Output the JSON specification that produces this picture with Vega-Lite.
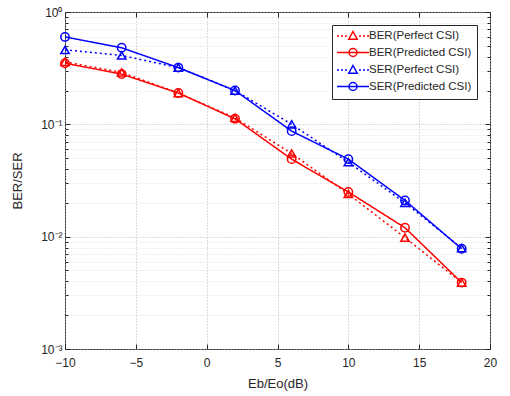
{
  "$schema": "https://vega.github.io/schema/vega-lite/v6.json",
  "width": 510,
  "height": 396,
  "autosize": {"type": "fit", "contains": "padding"},
  "padding": {"left": 11, "top": 6, "right": 13, "bottom": 6},
  "background": "white",
  "config": {
    "font": "Liberation Sans",
    "view": {"stroke": "#262626", "strokeWidth": 1},
    "axis": {
      "domain": false,
      "labelFont": "Liberation Sans",
      "titleFont": "Liberation Sans",
      "labelColor": "#262626",
      "titleColor": "#262626",
      "labelFontSize": 12,
      "titleFontSize": 13,
      "titleFontWeight": "normal",
      "tickColor": "#262626",
      "tickWidth": 1,
      "labelFlush": false
    }
  },
  "data": {
    "values": [
      {"x": -10, "v": 0.36, "series": "BER(Perfect CSI)"},
      {"x": -6, "v": 0.29, "series": "BER(Perfect CSI)"},
      {"x": -2, "v": 0.19, "series": "BER(Perfect CSI)"},
      {"x": 2, "v": 0.114, "series": "BER(Perfect CSI)"},
      {"x": 6, "v": 0.055, "series": "BER(Perfect CSI)"},
      {"x": 10, "v": 0.024, "series": "BER(Perfect CSI)"},
      {"x": 14, "v": 0.0098, "series": "BER(Perfect CSI)"},
      {"x": 18, "v": 0.0039, "series": "BER(Perfect CSI)"},
      {"x": -10, "v": 0.35, "series": "BER(Predicted CSI)"},
      {"x": -6, "v": 0.28, "series": "BER(Predicted CSI)"},
      {"x": -2, "v": 0.19, "series": "BER(Predicted CSI)"},
      {"x": 2, "v": 0.112, "series": "BER(Predicted CSI)"},
      {"x": 6, "v": 0.049, "series": "BER(Predicted CSI)"},
      {"x": 10, "v": 0.025, "series": "BER(Predicted CSI)"},
      {"x": 14, "v": 0.012, "series": "BER(Predicted CSI)"},
      {"x": 18, "v": 0.0039, "series": "BER(Predicted CSI)"},
      {"x": -10, "v": 0.46, "series": "SER(Perfect CSI)"},
      {"x": -6, "v": 0.41, "series": "SER(Perfect CSI)"},
      {"x": -2, "v": 0.32, "series": "SER(Perfect CSI)"},
      {"x": 2, "v": 0.2, "series": "SER(Perfect CSI)"},
      {"x": 6, "v": 0.1, "series": "SER(Perfect CSI)"},
      {"x": 10, "v": 0.046, "series": "SER(Perfect CSI)"},
      {"x": 14, "v": 0.02, "series": "SER(Perfect CSI)"},
      {"x": 18, "v": 0.0079, "series": "SER(Perfect CSI)"},
      {"x": -10, "v": 0.6, "series": "SER(Predicted CSI)"},
      {"x": -6, "v": 0.48, "series": "SER(Predicted CSI)"},
      {"x": -2, "v": 0.32, "series": "SER(Predicted CSI)"},
      {"x": 2, "v": 0.2, "series": "SER(Predicted CSI)"},
      {"x": 6, "v": 0.087, "series": "SER(Predicted CSI)"},
      {"x": 10, "v": 0.049, "series": "SER(Predicted CSI)"},
      {"x": 14, "v": 0.021, "series": "SER(Predicted CSI)"},
      {"x": 18, "v": 0.0078, "series": "SER(Predicted CSI)"}
    ]
  },
  "layer": [
    {
      "mark": {"type": "line", "strokeWidth": 1.5, "clip": true},
      "encoding": {
        "x": {
          "field": "x", "type": "quantitative",
          "scale": {"domain": [-10, 20], "nice": false},
          "axis": {
            "title": "Eb/Eo(dB)",
            "values": [-10, -5, 0, 5, 10, 15, 20],
            "tickSize": -5,
            "labelPadding": 13,
            "titlePadding": 9,
            "grid": true,
            "gridColor": "#b8b8b8",
            "gridDash": [1, 2],
            "gridWidth": 1
          }
        },
        "y": {
          "field": "v", "type": "quantitative",
          "scale": {"type": "log", "domain": [0.001, 1], "nice": false},
          "axis": {
            "title": "BER/SER",
            "values": [0.001, 0.002, 0.003, 0.004, 0.005, 0.006, 0.007, 0.008, 0.009, 0.01, 0.02, 0.03, 0.04, 0.05, 0.06, 0.07, 0.08, 0.09, 0.1, 0.2, 0.3, 0.4, 0.5, 0.6, 0.7, 0.8, 0.9, 1],
            "labelExpr": "datum.value == 1 ? '10⁰' : datum.value == 0.1 ? '10⁻¹' : datum.value == 0.01 ? '10⁻²' : datum.value == 0.001 ? '10⁻³' : ''",
            "tickSize": {"condition": {"test": "indexof([1,0.1,0.01,0.001], datum.value) >= 0", "value": -5}, "value": -3},
            "labelPadding": 8,
            "titlePadding": 16,
            "grid": true,
            "gridColor": {"condition": {"test": "indexof([1,0.1,0.01,0.001], datum.value) >= 0", "value": "#b8b8b8"}, "value": "#dcdcdc"},
            "gridDash": [1, 2],
            "gridWidth": 1
          }
        },
        "detail": {"field": "series"},
        "color": {
          "field": "series", "type": "nominal",
          "scale": {"domain": ["BER(Perfect CSI)", "BER(Predicted CSI)", "SER(Perfect CSI)", "SER(Predicted CSI)"], "range": ["#ff0000", "#ff0000", "#0000ff", "#0000ff"]},
          "legend": null
        },
        "strokeDash": {
          "field": "series", "type": "nominal",
          "scale": {"domain": ["BER(Perfect CSI)", "BER(Predicted CSI)", "SER(Perfect CSI)", "SER(Predicted CSI)"], "range": [[2, 3], [1, 0], [2, 3], [1, 0]]},
          "legend": null
        }
      }
    },
    {
      "transform": [{"filter": "indexof(datum.series, 'Perfect') >= 0"}],
      "mark": {"type": "point", "shape": "triangle-up", "filled": false, "size": 70, "strokeWidth": 1.5, "opacity": 1},
      "encoding": {
        "x": {"field": "x", "type": "quantitative", "axis": {"orient": "top", "values": [-10, -5, 0, 5, 10, 15, 20], "labels": false, "title": null, "tickSize": -5, "grid": false}},
        "y": {"field": "v", "type": "quantitative", "axis": {"orient": "right", "values": [0.001, 0.002, 0.003, 0.004, 0.005, 0.006, 0.007, 0.008, 0.009, 0.01, 0.02, 0.03, 0.04, 0.05, 0.06, 0.07, 0.08, 0.09, 0.1, 0.2, 0.3, 0.4, 0.5, 0.6, 0.7, 0.8, 0.9, 1], "labels": false, "title": null, "grid": false, "tickSize": {"condition": {"test": "indexof([1,0.1,0.01,0.001], datum.value) >= 0", "value": -5}, "value": -3}}},
        "color": {"field": "series", "type": "nominal", "legend": null}
      }
    },
    {
      "transform": [{"filter": "indexof(datum.series, 'Predicted') >= 0"}],
      "mark": {"type": "point", "shape": "circle", "filled": false, "size": 70, "strokeWidth": 1.5, "opacity": 1},
      "encoding": {
        "x": {"field": "x", "type": "quantitative", "axis": null},
        "y": {"field": "v", "type": "quantitative", "axis": null},
        "color": {"field": "series", "type": "nominal", "legend": null}
      }
    },
    {
      "mark": {"type": "point", "filled": false, "strokeWidth": 1.5, "opacity": 0},
      "encoding": {
        "x": {"field": "x", "type": "quantitative", "axis": null},
        "y": {"field": "v", "type": "quantitative", "axis": null},
        "shape": {
          "field": "series", "type": "nominal",
          "scale": {
            "domain": ["BER(Perfect CSI)", "BER(Predicted CSI)", "SER(Perfect CSI)", "SER(Predicted CSI)"],
            "range": [
              "M-3.2,0h0.4M-2.4,0h0.4M-1.6,0h0.4M1.2,0h0.4M2,0h0.4M2.8,0h0.4M0,-0.9L0.85,0.65L-0.85,0.65Z",
              "M-3.2,0H3.2M0.8,0A0.8,0.8 0 1,1 -0.8,0A0.8,0.8 0 1,1 0.8,0Z",
              "M-3.2,0h0.4M-2.4,0h0.4M-1.6,0h0.4M1.2,0h0.4M2,0h0.4M2.8,0h0.4M0,-0.9L0.85,0.65L-0.85,0.65Z",
              "M-3.2,0H3.2M0.8,0A0.8,0.8 0 1,1 -0.8,0A0.8,0.8 0 1,1 0.8,0Z"
            ]
          },
          "legend": {
            "title": null,
            "orient": "top-right",
            "offset": 13,
            "padding": 5,
            "strokeColor": "#262626",
            "fillColor": "white",
            "symbolSize": 100,
            "symbolOffset": 10,
            "symbolStrokeWidth": 1.5,
            "labelOffset": 10,
            "labelFontSize": 11.5,
            "labelFont": "Liberation Sans",
            "labelColor": "#262626",
            "rowPadding": 2.5,
            "labelLimit": 300
          }
        },
        "stroke": {
          "field": "series", "type": "nominal",
          "scale": {"domain": ["BER(Perfect CSI)", "BER(Predicted CSI)", "SER(Perfect CSI)", "SER(Predicted CSI)"], "range": ["#ff0000", "#ff0000", "#0000ff", "#0000ff"]},
          "legend": {"title": null, "orient": "top-right"}
        }
      }
    }
  ],
  "resolve": {"axis": {"x": "independent", "y": "independent"}, "legend": {"shape": "independent", "stroke": "independent"}}
}
